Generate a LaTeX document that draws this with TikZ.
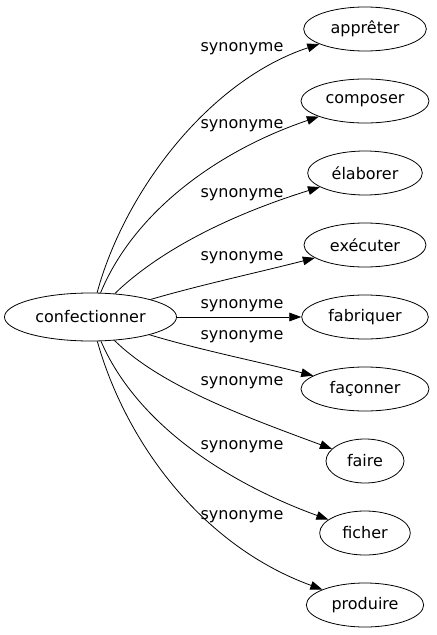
\documentclass[tikz,border=0pt]{standalone}
\usepackage{fontspec}
\setmainfont{DejaVu Sans}
\usetikzlibrary{shapes.geometric, arrows.meta, positioning}
\tikzstyle{wnode} = [ellipse, draw, line width = 0.6pt, inner sep = 0pt, minimum height = 33pt]
\tikzstyle{line} = [draw, line width = 0.6pt, -{Triangle[length=9pt, width=6.5pt]}]
\tikzstyle{lbl} = [inner sep = 0pt]

\begin{document}
\begin{tikzpicture}[x=0.75pt, y=-0.75pt, font=\fontsize{12}{14}\selectfont]
			\useasboundingbox (0, 0) rectangle (436, 635);
			\node [wnode, minimum width=129pt, minimum height=36pt] (confectionner) at (90.5, 317) {confectionner};
			\node [wnode, minimum width=92pt] (appreter) at (365, 29) {apprêter};
			\node [wnode, minimum width=96pt] (composer) at (365, 101) {composer};
			\node [wnode, minimum width=86pt] (elaborer) at (365, 173) {élaborer};
			\node [wnode, minimum width=91.5pt] (executer) at (365, 245) {exécuter};
			\node [wnode, minimum width=95pt] (fabriquer) at (365, 317) {fabriquer};
			\node [wnode, minimum width=96pt] (faconner) at (365, 389) {façonner};
			\node [wnode, minimum width=58.5pt] (faire) at (365, 461) {faire};
			\node [wnode, minimum width=68pt] (ficher) at (365, 533) {ficher};
			\node [wnode, minimum width=88pt] (produire) at (365, 605) {produire};

			\node [lbl] (l-appreter) at (242, 49) {synonyme};
			\node [lbl] (l-composer) at (242, 126) {synonyme};
			\node [lbl] (l-elaborer) at (242, 195) {synonyme};
			\node [lbl] (l-executer) at (242, 258) {synonyme};
			\node [lbl] (l-fabriquer) at (242, 306) {synonyme};
			\node [lbl] (l-faconner) at (242, 337) {synonyme};
			\node [lbl] (l-faire) at (242, 383) {synonyme};
			\node [lbl] (l-ficher) at (242, 447) {synonyme};
			\node [lbl] (l-produire) at (242, 517) {synonyme};

			\path [line] (confectionner) .. controls (125, 190) and (210, 80) .. (appreter);
			\path [line] (confectionner) .. controls (135, 210) and (220, 150) .. (composer);
			\path [line] (confectionner) .. controls (160, 250) and (230, 215) .. (elaborer);
			\path [line] (confectionner) .. controls (200, 285) and (260, 272) .. (executer);
			\path [line] (confectionner) -- (fabriquer);
			\path [line] (confectionner) .. controls (200, 350) and (260, 362) .. (faconner);
			\path [line] (confectionner) .. controls (160, 385) and (240, 415) .. (faire);
			\path [line] (confectionner) .. controls (135, 420) and (220, 480) .. (ficher);
			\path [line] (confectionner) .. controls (125, 440) and (200, 545) .. (produire);
\end{tikzpicture}
\end{document}
